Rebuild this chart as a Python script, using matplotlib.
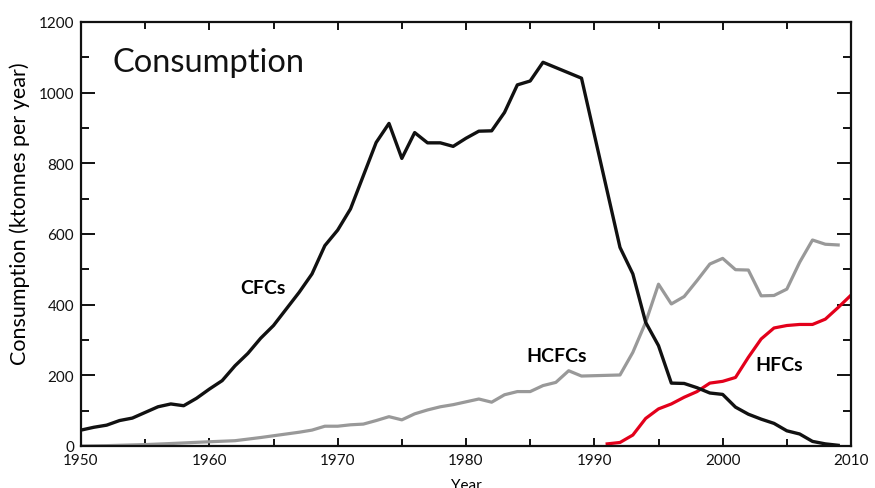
import matplotlib
matplotlib.use("Agg")
import matplotlib.pyplot as plt
from matplotlib.ticker import MultipleLocator

plt.rcParams['font.family'] = ['Lato', 'DejaVu Sans']

cfc_years = [1950, 1951, 1952, 1953, 1954, 1955, 1956, 1957, 1958, 1959,
             1960, 1961, 1962, 1963, 1964, 1965, 1966, 1967, 1968, 1969,
             1970, 1971, 1972, 1973, 1974, 1975, 1976, 1977, 1978, 1979,
             1980, 1981, 1982, 1983, 1984, 1985, 1986, 1989, 1992, 1993,
             1994, 1995, 1996, 1997, 1998, 1999, 2000, 2001, 2002, 2003,
             2004, 2005, 2006, 2007, 2008, 2009]
cfc_vals = [45, 53, 59, 72, 79, 95, 111, 119, 114, 135,
            161, 185, 227, 262, 305, 341, 388, 435, 487, 567,
            611, 671, 765, 859, 913, 814, 887, 858, 858, 848,
            871, 891, 892, 944, 1022, 1033, 1086, 1041, 562, 487,
            350, 284, 178, 177, 165, 150, 146, 110, 90, 76,
            64, 43, 34, 13, 6, 2]

hcfc_years = [1950, 1952, 1955, 1957, 1960, 1962, 1964, 1966, 1967, 1968,
              1969, 1970, 1971, 1972, 1973, 1974, 1975, 1976, 1977, 1978,
              1979, 1980, 1981, 1982, 1983, 1984, 1985, 1986, 1987, 1988,
              1989, 1992, 1993, 1994, 1995, 1996, 1997, 1998, 1999, 2000,
              2001, 2002, 2003, 2004, 2005, 2006, 2007, 2008, 2009]
hcfc_vals = [0, 1, 4, 7, 12, 15, 24, 34, 39, 45,
             56, 56, 60, 62, 72, 83, 74, 91, 102, 111,
             117, 125, 133, 124, 145, 154, 154, 171, 180, 213,
             198, 201, 265, 350, 458, 402, 423, 468, 515, 531,
             499, 498, 425, 426, 444, 520, 583, 571, 569]

hfc_years = [1991, 1992, 1993, 1994, 1995, 1996, 1997, 1998, 1999, 2000,
             2001, 2002, 2003, 2004, 2005, 2006, 2007, 2008, 2009, 2010]
hfc_vals = [6, 10, 31, 78, 105, 119, 138, 154, 178, 183,
            194, 251, 303, 334, 341, 344, 344, 359, 392, 427]

xticks = [1950, 1960, 1970, 1980, 1990, 2000, 2010]
yticks = [0, 200, 400, 600, 800, 1000, 1200]

fig = plt.figure(figsize=(8.75, 4.89), dpi=100)
ax = fig.add_axes([81/875, 42/489, 770/875, 424/489])

ax.plot(hcfc_years, hcfc_vals, color='#999999', lw=2.3, solid_joinstyle='round')
ax.plot(hfc_years, hfc_vals, color='#e3001b', lw=2.3, solid_joinstyle='round')
ax.plot(cfc_years, cfc_vals, color='#111111', lw=2.4, solid_joinstyle='round')

ax.set_xlim(1950, 2010)
ax.set_ylim(0, 1200)
ax.set_xticks(xticks)
ax.set_yticks(yticks)
ax.xaxis.set_minor_locator(MultipleLocator(5))
ax.yaxis.set_minor_locator(MultipleLocator(100))
ax.tick_params(which='both', direction='in', top=True, right=True,
               width=1.4, labelsize=11, colors='#111111', pad=5)
ax.tick_params(axis='x', which='major', length=6)
ax.tick_params(axis='x', which='minor', length=5)
ax.tick_params(axis='y', which='major', length=10)
ax.tick_params(axis='y', which='minor', length=6)
for s in ax.spines.values():
    s.set_linewidth(1.6)
    s.set_color('#111111')

ax.set_ylabel('Consumption (ktonnes per year)', fontsize=15.5, va='center')
ax.yaxis.set_label_coords(-0.079, 0.55)
ax.set_xlabel('Year', fontsize=11, labelpad=8)

ax.text(0.041, 0.905, 'Consumption', transform=ax.transAxes, fontsize=23.5,
        ha='left', va='center', color='#111111')
ax.text(1964.2, 450, 'CFCs', fontsize=14, fontweight='bold', ha='center', va='center')
ax.text(1987.1, 255, 'HCFCs', fontsize=14, fontweight='bold', ha='center', va='center')
ax.text(2004.4, 230, 'HFCs', fontsize=14, fontweight='bold', ha='center', va='center')

fig.savefig('out.png', dpi=100)
